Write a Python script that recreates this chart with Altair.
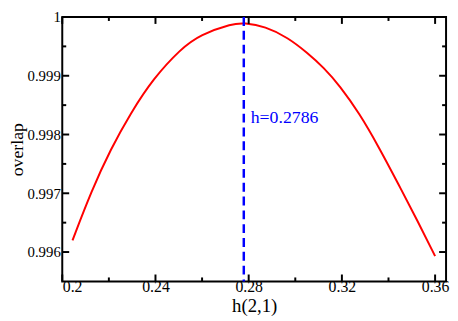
import altair as alt
import pandas as pd

# ---- data ----
h_vals = [0.2044, 0.2125, 0.2209, 0.2293, 0.2390, 0.2509, 0.2592, 0.2731, 0.2780,
          0.2871, 0.2968, 0.3052, 0.3122, 0.3191, 0.3275, 0.3358, 0.3442, 0.3526, 0.3600]
overlap_vals = [0.99620, 0.99704, 0.99776, 0.99836, 0.99895, 0.99946, 0.99970, 0.99989, 0.99990,
                0.99984, 0.99965, 0.99939, 0.99914, 0.99883, 0.99836, 0.99779, 0.99716, 0.99652, 0.99593]
vline_h = [0.2779]
label_text = ["h=0.2786"]
label_y = [0.9982]

x_major = [0.2, 0.24, 0.28, 0.32, 0.36]
x_minor = [0.22, 0.26, 0.30, 0.34]
y_major = [0.996, 0.997, 0.998, 0.999, 1.0]
y_minor = [0.9965, 0.9975, 0.9985, 0.9995]
x_domain = [0.2, 0.3647]
y_domain = [0.9955, 1.0]

W, H = 389, 268
FONT = "Liberation Serif"
MAJ, MIN = 7, 4

xs = alt.Scale(domain=x_domain, nice=False, zero=False)
ys = alt.Scale(domain=y_domain, nice=False, zero=False)

x_axis = alt.Axis(values=x_major, format="~g", title="h(2,1)", ticks=False, tickSize=0,
                  domain=False, grid=False,
                  labelFont=FONT, labelFontSize=16, labelColor="black",
                  labelBaseline="alphabetic", labelPadding=10,
                  titleFont=FONT, titleFontSize=19, titleColor="black", titleFontWeight="normal",
                  titleBaseline="alphabetic", titleY=30, titleX=W / 2, titleAlign="center")
y_axis = alt.Axis(values=y_major, format="~g", title="overlap", ticks=False, tickSize=0,
                  domain=False, grid=False,
                  labelFont=FONT, labelFontSize=15, labelColor="black", labelPadding=2,
                  titleFont=FONT, titleFontSize=18, titleColor="black", titleFontWeight="normal",
                  titleAngle=270, titleBaseline="alphabetic", titleAlign="center",
                  titleX=-40, titleY=H / 2)


def X(field):
    return alt.X(field, type="quantitative", scale=xs, axis=x_axis)


def Y(field):
    return alt.Y(field, type="quantitative", scale=ys, axis=y_axis)


curve = alt.Chart(pd.DataFrame({"h": h_vals, "o": overlap_vals})).mark_line(
    color="#ff0000", strokeWidth=2, interpolate="basis"
).encode(x=X("h"), y=Y("o"))

vline = alt.Chart(pd.DataFrame({"h": vline_h})).mark_rule(
    color="#0000ff", strokeWidth=2.5, strokeDash=[9, 5]
).encode(x=X("h"))

label = alt.Chart(pd.DataFrame({"h": vline_h, "o": label_y, "t": label_text})).mark_text(
    align="left", baseline="alphabetic", dx=7, font=FONT, fontSize=18, color="#0000ff"
).encode(x=X("h"), y=Y("o"), text="t:N")


def xticks(vals, length, top):
    y0 = 0 if top else H
    y1 = length if top else H - length
    return alt.Chart(pd.DataFrame({"h": vals})).mark_rule(color="black", strokeWidth=2).encode(
        x=X("h"), y=alt.value(y0), y2=alt.value(y1))


def yticks(vals, length, right):
    x0 = W if right else 0
    x1 = W - length if right else length
    return alt.Chart(pd.DataFrame({"o": vals})).mark_rule(color="black", strokeWidth=2).encode(
        y=Y("o"), x=alt.value(x0), x2=alt.value(x1))


ticks = [
    xticks(x_major, MAJ, False), xticks(x_minor, MIN, False),
    xticks(x_major, MAJ, True), xticks(x_minor, MIN, True),
    yticks(y_major, MAJ, False), yticks(y_minor, MIN, False),
    yticks(y_major, MAJ, True), yticks(y_minor, MIN, True),
]

chart = alt.layer(curve, vline, label, *ticks).properties(
    width=W, height=H,
    autosize=alt.AutoSizeParams(type="none"),
    padding={"left": 55, "top": 7, "right": 4, "bottom": 38},
).configure_view(
    stroke="black", strokeWidth=2
)

chart.save("out.html", embed_options={"renderer": "svg", "actions": False})
